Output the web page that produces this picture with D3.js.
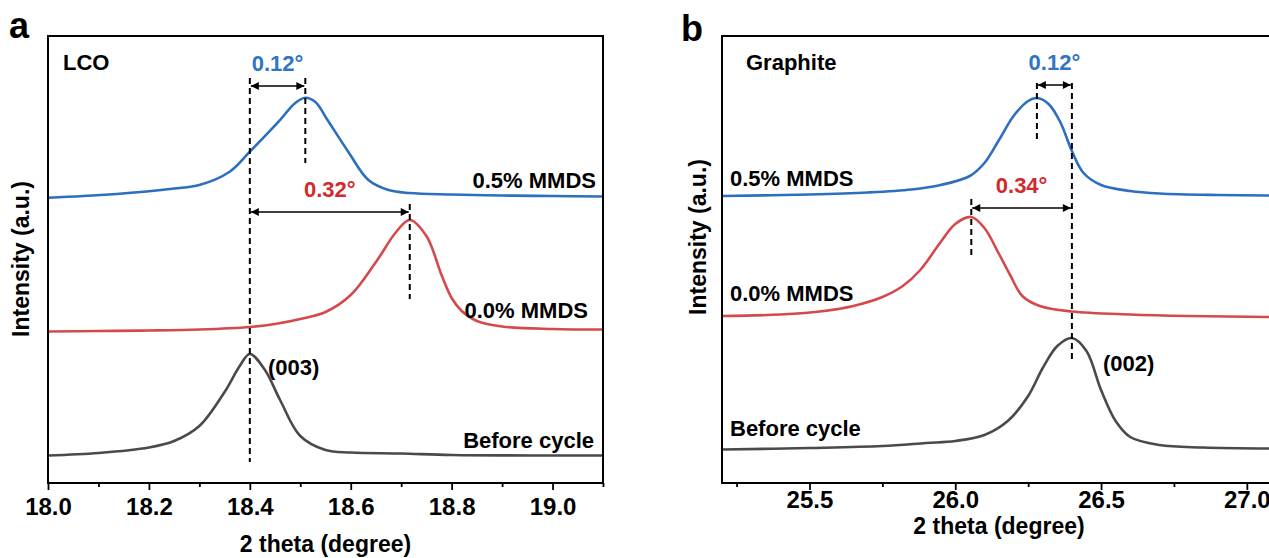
<!DOCTYPE html>
<html>
<head>
<meta charset="utf-8">
<script src="https://cdn.jsdelivr.net/npm/d3@7/dist/d3.min.js"></script>
<style>
  body { margin: 0; background: #fff; }
  svg { display: block; font-family: "Liberation Sans", Arial, sans-serif; font-weight: bold; }
</style>
</head>
<body>
<svg id="chart" width="1269" height="558"></svg>
<script>
// ---- panel a : LCO (003) ----
const lcoBlueTheta = [18.00, 18.07, 18.19, 18.25, 18.30, 18.36, 18.40, 18.457, 18.49, 18.51, 18.53, 18.554, 18.595, 18.635, 18.675, 18.716, 18.80, 18.90, 19.00, 19.10];
const lcoBlueInt   = [285.3, 287, 291.3, 294.5, 298, 311.3, 331.3, 361.3, 380, 385.3, 381, 363, 331.3, 303, 293, 290, 288.5, 287.5, 287, 286.5];

const lcoRedTheta = [18.00, 18.10, 18.20, 18.30, 18.40, 18.45, 18.50, 18.55, 18.60, 18.65, 18.69, 18.717, 18.75, 18.78, 18.80, 18.82, 18.85, 18.90, 19.00, 19.10];
const lcoRedInt   = [151.5, 152, 152.5, 153.5, 156, 159, 164, 171, 188, 221, 251, 263, 247, 208, 185, 172, 162, 156.5, 154, 153.5];

const lcoGreyTheta = [18.00, 18.10, 18.20, 18.25, 18.30, 18.35, 18.38, 18.40, 18.43, 18.46, 18.50, 18.55, 18.60, 18.70, 18.80, 19.00, 19.10];
const lcoGreyInt   = [27.5, 30, 35.5, 42, 57, 91, 117, 129, 113, 83, 47, 33, 30.5, 29.5, 28, 27.5, 27.5];

// ---- panel b : Graphite (002) ----
const grBlueTheta = [25.20, 25.50, 25.70, 25.85, 25.95, 26.05, 26.10, 26.15, 26.20, 26.25, 26.28, 26.32, 26.36, 26.40, 26.44, 26.50, 26.60, 26.70, 26.90, 27.10];
const grBlueInt   = [287, 288.5, 290.5, 293.5, 298, 307, 320, 343, 367, 382, 385, 379, 361, 332, 310, 298, 292, 289.5, 288, 287.5];

const grRedTheta = [25.20, 25.40, 25.55, 25.65, 25.75, 25.82, 25.88, 25.95, 26.00, 26.055, 26.10, 26.15, 26.19, 26.23, 26.29, 26.40, 26.60, 26.80, 27.10];
const grRedInt   = [167, 168.5, 172, 177, 186, 197, 213, 241, 259, 266, 255, 229, 207, 187, 177, 171.5, 168.5, 167, 166];

const grGreyTheta = [25.20, 25.50, 25.75, 25.90, 26.00, 26.10, 26.18, 26.25, 26.30, 26.35, 26.40, 26.45, 26.50, 26.55, 26.60, 26.70, 26.85, 27.10];
const grGreyInt   = [33.5, 35, 37, 40, 42, 48, 62, 87, 115, 137, 145, 132, 93, 62, 46, 38, 35.5, 34.5];

// tick values
const lcoMajorTicks = [18.0, 18.2, 18.4, 18.6, 18.8, 19.0];
const lcoMinorTicks = [18.1, 18.3, 18.5, 18.7, 18.9, 19.1];
const grMajorTicks = [25.5, 26.0, 26.5, 27.0];
const grMinorTicks = [25.25, 25.75, 26.25, 26.75];

// peak shift annotations: [theta1, theta2, intensity of arrow, label, colour]
const lcoShifts = [[18.40, 18.51, 397, "0.12°", "blue"], [18.40, 18.717, 271, "0.32°", "red"]];
const grShifts  = [[26.28, 26.40, 398, "0.12°", "blue"], [26.055, 26.40, 275, "0.34°", "red"]];
// dashed marker lines: [theta, top intensity, bottom intensity]
const lcoDashes = [[18.40, 405, 21], [18.51, 405, 320], [18.717, 279, 184]];
const grDashes  = [[26.28, 400, 341], [26.40, 400, 123], [26.055, 284, 225]];

const colors = { blue: "#2d6fbf", red: "#d44a4c", grey: "#4a4a4a", blueText: "#2f74c6", redText: "#d12a2c" };

const svg = d3.select("#chart");

svg.append("defs").append("marker")
  .attr("id", "arrow")
  .attr("viewBox", "0 0 10 10")
  .attr("refX", 10).attr("refY", 5)
  .attr("markerWidth", 10).attr("markerHeight", 8)
  .attr("markerUnits", "userSpaceOnUse")
  .attr("orient", "auto-start-reverse")
  .append("path").attr("d", "M0,0L10,5L0,10z").attr("fill", "#000");

function drawPanel(p) {
  const x = d3.scaleLinear().domain(p.xDomain).range([p.left, p.right]);
  const y = d3.scaleLinear().domain([0, 447]).range([483, 36]);
  const g = svg.append("g");

  const line = d3.line().x(d => x(d[0])).y(d => y(d[1])).curve(d3.curveCatmullRom.alpha(0.5));

  p.series.forEach(s => {
    g.append("path")
      .datum(d3.zip(s.theta, s.inten))
      .attr("fill", "none")
      .attr("stroke", s.color)
      .attr("stroke-width", 2.6)
      .attr("d", line);
  });

  // dashed marker lines
  g.selectAll(".dash").data(p.dashes).enter().append("line")
    .attr("x1", d => x(d[0])).attr("x2", d => x(d[0]))
    .attr("y1", d => y(d[1])).attr("y2", d => y(d[2]))
    .attr("stroke", "#000").attr("stroke-width", 2)
    .attr("stroke-dasharray", "6,4");

  // double arrows + shift labels
  g.selectAll(".arr").data(p.shifts).enter().append("line")
    .attr("x1", d => x(d[0]) + 1).attr("x2", d => x(d[1]) - 1)
    .attr("y1", d => y(d[2])).attr("y2", d => y(d[2]))
    .attr("stroke", "#000").attr("stroke-width", 1.4)
    .attr("marker-start", "url(#arrow)").attr("marker-end", "url(#arrow)");

  g.selectAll(".shift").data(p.shifts).enter().append("text")
    .attr("x", d => (x(d[0]) + x(d[1])) / 2)
    .attr("y", d => y(d[2]) - 15)
    .attr("text-anchor", "middle")
    .attr("font-size", 22)
    .attr("fill", d => d[4] === "blue" ? colors.blueText : colors.redText)
    .text(d => d[3]);

  // frame
  g.append("rect")
    .attr("x", p.left).attr("y", 36)
    .attr("width", p.right - p.left).attr("height", 447)
    .attr("fill", "none").attr("stroke", "#000").attr("stroke-width", 2);

  // x axis
  const ax = g.append("g").attr("transform", "translate(0,483)");
  ax.call(d3.axisBottom(x).tickValues(p.major).tickSize(7).tickPadding(p.tickPad).tickFormat(d3.format(".1f")));
  ax.append("g").call(d3.axisBottom(x).tickValues(p.minor).tickSize(4).tickFormat(""));
  ax.selectAll(".domain").remove();
  ax.selectAll("line").attr("stroke", "#000").attr("stroke-width", 1.8);
  ax.selectAll("text").attr("font-size", 24).attr("font-family", "Liberation Sans, Arial, sans-serif").attr("font-weight", "bold").attr("fill", "#000");

  g.append("text")
    .attr("x", (p.left + p.right) / 2).attr("y", p.titleY)
    .attr("text-anchor", "middle").attr("font-size", 23)
    .text("2 theta (degree)");

  g.append("text")
    .attr("transform", `translate(${p.yTitleX},${p.yTitleY}) rotate(-90)`)
    .attr("text-anchor", "middle").attr("dy", "0.35em").attr("font-size", 23)
    .text("Intensity (a.u.)");

  g.append("text").attr("x", p.letterX).attr("y", p.letterY)
    .attr("font-size", 36).text(p.letter);

  g.append("text").attr("x", p.left + p.nameDx).attr("y", 62).attr("dy", "0.35em")
    .attr("font-size", 22).text(p.name);

  p.labels.forEach(l => {
    g.append("text")
      .attr("x", l.anchor === "end" ? p.right - l.dx : p.left + l.dx)
      .attr("y", l.py).attr("dy", "0.35em")
      .attr("text-anchor", l.anchor)
      .attr("font-size", 22)
      .text(l.text);
  });

  g.append("text").attr("x", p.hklX).attr("y", p.hklY).attr("dy", "0.35em")
    .attr("font-size", 22).text(p.hkl);
}

drawPanel({
  xDomain: [18.0, 19.1], left: 48, right: 603,
  series: [
    { theta: lcoBlueTheta, inten: lcoBlueInt, color: colors.blue },
    { theta: lcoRedTheta, inten: lcoRedInt, color: colors.red },
    { theta: lcoGreyTheta, inten: lcoGreyInt, color: colors.grey }
  ],
  dashes: lcoDashes, shifts: lcoShifts,
  major: lcoMajorTicks, minor: lcoMinorTicks, tickPad: 8,
  titleY: 552, yTitleX: 21, yTitleY: 259,
  letter: "a", letterX: 9, letterY: 38,
  name: "LCO", nameDx: 15,
  labels: [
    { text: "0.5% MMDS", anchor: "end", dx: 7, py: 180 },
    { text: "0.0% MMDS", anchor: "end", dx: 15, py: 310 },
    { text: "Before cycle", anchor: "end", dx: 9, py: 440 }
  ],
  hkl: "(003)", hklX: 268, hklY: 367
});

drawPanel({
  xDomain: [25.2, 27.1], left: 722, right: 1276,
  series: [
    { theta: grBlueTheta, inten: grBlueInt, color: colors.blue },
    { theta: grRedTheta, inten: grRedInt, color: colors.red },
    { theta: grGreyTheta, inten: grGreyInt, color: colors.grey }
  ],
  dashes: grDashes, shifts: grShifts,
  major: grMajorTicks, minor: grMinorTicks, tickPad: 1,
  titleY: 534, yTitleX: 698, yTitleY: 237,
  letter: "b", letterX: 681, letterY: 41,
  name: "Graphite", nameDx: 24,
  labels: [
    { text: "0.5% MMDS", anchor: "start", dx: 8, py: 178 },
    { text: "0.0% MMDS", anchor: "start", dx: 8, py: 293 },
    { text: "Before cycle", anchor: "start", dx: 8, py: 428 }
  ],
  hkl: "(002)", hklX: 1103, hklY: 363
});
</script>
</body>
</html>
